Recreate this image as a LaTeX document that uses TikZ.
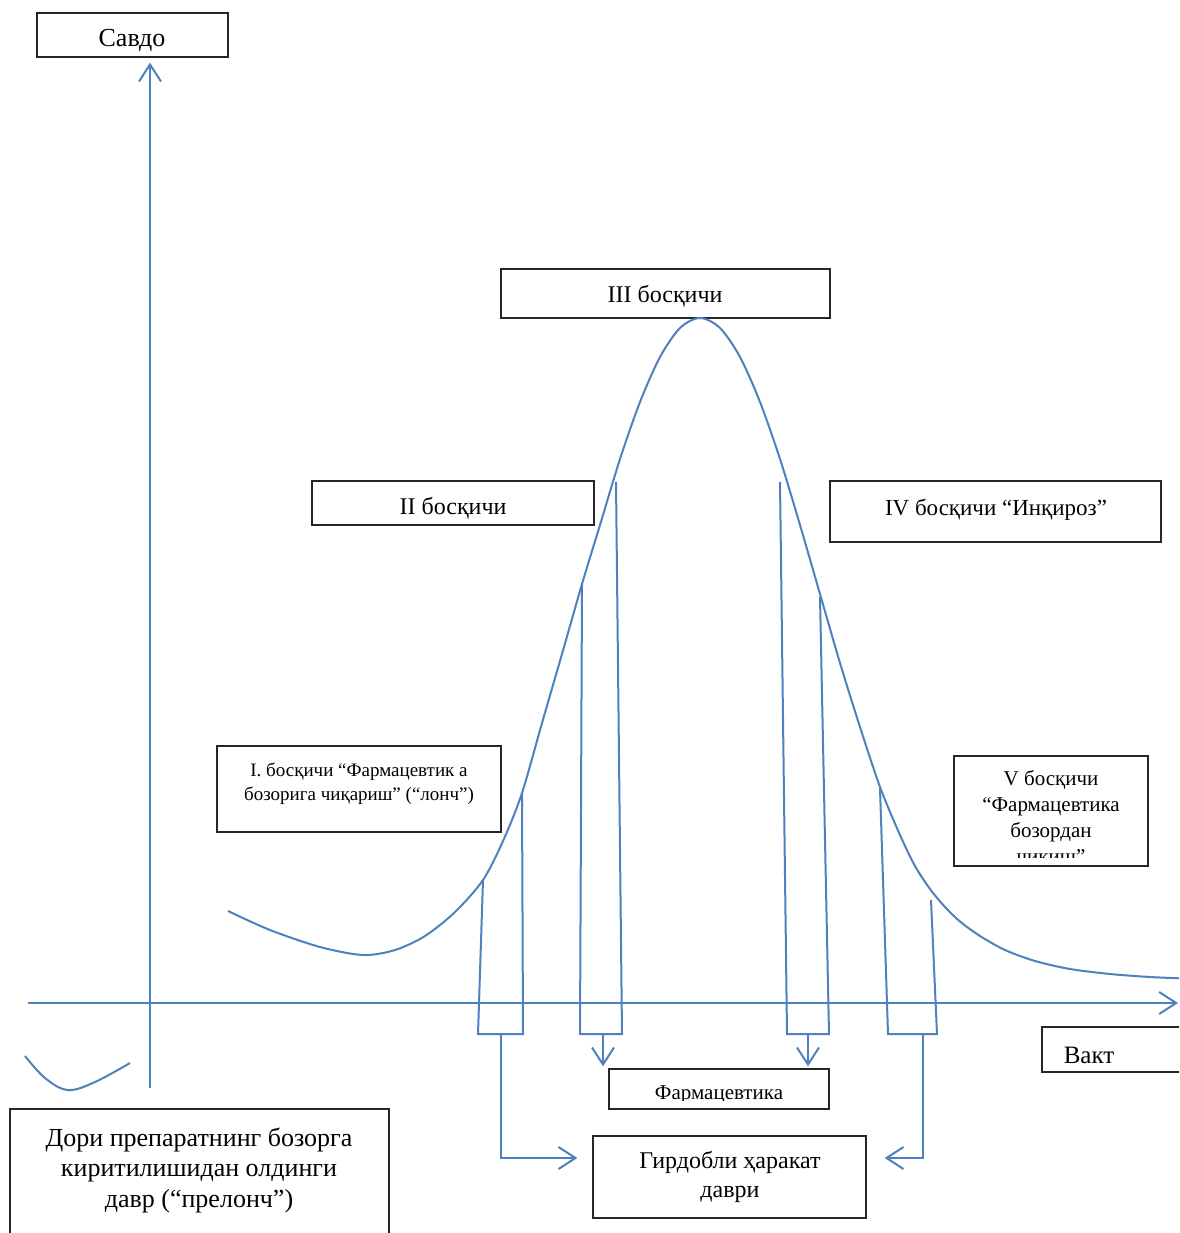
\documentclass[tikz,border=0pt]{standalone}
\usepackage{fontspec}
\setmainfont{Liberation Serif}
\usetikzlibrary{arrows.meta}
\definecolor{lblue}{HTML}{4F81BD}
\newcommand\fsz[2]{\fontsize{#1}{#2}\selectfont}
\begin{document}
\begin{tikzpicture}[x=1pt,y=-1pt,
  box/.style={draw=black!85,line width=1.3pt,inner sep=0pt,rectangle},
  bl/.style={draw=lblue,line width=2pt},
  arr/.style={bl,-{Straight Barb[length=17pt,width=22pt]}},
  txt/.style={inner sep=0pt,anchor=base}]
\clip (0,0) rectangle (1179,1233);
\fill[white] (0,0) rectangle (1179,1233);

% boxes
\node[box,minimum width=191pt,minimum height=44pt] (savdo) at (132.5,35) {};
\node[box,minimum width=329pt,minimum height=49pt] (s3) at (665.5,293.5) {};
\node[box,minimum width=282pt,minimum height=44pt] (s2) at (453,503) {};
\node[box,minimum width=331pt,minimum height=61pt] (s4) at (995.5,511.5) {};
\node[box,minimum width=284pt,minimum height=86pt] (s1) at (359,789) {};
\node[box,minimum width=194pt,minimum height=110pt] (s5) at (1051,811) {};
\node[box,minimum width=158pt,minimum height=45pt] (vakt) at (1121,1049.5) {};
\node[box,minimum width=220pt,minimum height=40pt] (farm) at (719,1089) {};
\node[box,minimum width=273pt,minimum height=82pt] (gird) at (729.5,1177) {};
\node[box,minimum width=379pt,minimum height=151pt] (dori) at (199.5,1184.5) {};

% texts
\node[txt,font=\fsz{26}{29}] (savdo-t) at (132,47) {Савдо};
\node[txt,font=\fsz{24}{28}] (s3-t) at (665,302) {III босқичи};
\node[txt,font=\fsz{24}{28}] (s2-t) at (453,514) {II босқичи};
\node[txt,font=\fsz{23}{28}] (s4-t) at (996,515) {IV босқичи “Инқироз”};
\node[txt,font=\fsz{19}{23}] (s1-t1) at (359,776) {I. босқичи “Фармацевтик а};
\node[txt,font=\fsz{19}{23}] (s1-t2) at (359,800) {бозорига чиқариш” (“лонч”)};
\node[txt,font=\fsz{21}{26}] (s5-t1) at (1051,785) {V босқичи};
\node[txt,font=\fsz{21}{26}] (s5-t2) at (1051,811) {“Фармацевтика};
\node[txt,font=\fsz{21}{26}] (s5-t3) at (1051,837) {бозордан};
\begin{scope}
  \clip (954,756) rectangle (1148,857);
  \node[txt,font=\fsz{21}{26}] (s5-t4) at (1051,863) {чиқиш”};
\end{scope}
\node[txt,font=\fsz{25}{29}] (vakt-t) at (1089,1063) {Вакт};
\begin{scope}
  \clip (609,1069) rectangle (829,1100);
  \node[txt,font=\fsz{21}{26}] (farm-t) at (719,1099) {Фармацевтика};
\end{scope}
\node[txt,font=\fsz{24}{29}] (gird-t1) at (730,1168) {Гирдобли ҳаракат};
\node[txt,font=\fsz{24}{29}] (gird-t2) at (730,1197) {даври};
\node[txt,font=\fsz{26}{30}] (dori-t1) at (199,1146) {Дори препаратнинг бозорга};
\node[txt,font=\fsz{26}{30}] (dori-t2) at (199,1176) {киритилишидан олдинги};
\node[txt,font=\fsz{26}{30}] (dori-t3) at (199,1207) {давр (“прелонч”)};

% axes
\coordinate (o) at (150,1088);
\coordinate (xs) at (28,1003);
\coordinate (xe) at (1178,1003);
\draw[arr,shorten >=5pt] (o) -- (o |- savdo.south);
\draw[arr] (xs) -- (xe);

% small curve at left
\draw[bl] plot[smooth,tension=0.6] coordinates {(25,1056) (45,1078) (68,1090) (95,1082) (130,1063)};

% main curve
\draw[bl] plot[smooth,tension=0.5] coordinates {(228,911) (270,930) (320,947) (363,955) (395,950) (425,936) (455,912) (483,880) (503,841) (522,793) (542,723) (562,654) (582,584) (600,525) (620,459) (640,402) (660,357) (680,328) (700,318) (720,328) (740,357) (760,402) (780,459) (800,525) (820,594) (840,663) (860,727) (880,787) (900,835) (915,866) (930,889) (945,907) (960,921.5) (980,936) (1005,950) (1035,961) (1070,969) (1110,974) (1150,977) (1185,978.5)};

% bracket coordinates
\coordinate (p1lt) at (483,880); \coordinate (p1lb) at (478,1034);
\coordinate (p1rt) at (522,793); \coordinate (p1rb) at (523,1034);
\coordinate (p2lt) at (582,584); \coordinate (p2lb) at (580,1034);
\coordinate (p2rt) at (616,482); \coordinate (p2rb) at (622,1034);
\coordinate (p3lt) at (780,482); \coordinate (p3lb) at (787,1034);
\coordinate (p3rt) at (820,597); \coordinate (p3rb) at (829,1034);
\coordinate (p4lt) at (880,788); \coordinate (p4lb) at (888,1034);
\coordinate (p4rt) at (931,900); \coordinate (p4rb) at (937,1034);
\draw[bl] (p1lt) -- (p1lb) -- (p1rb) -- (p1rt);
\draw[bl] (p2lt) -- (p2lb) -- (p2rb) -- (p2rt);
\draw[bl] (p3lt) -- (p3lb) -- (p3rb) -- (p3rt);
\draw[bl] (p4lt) -- (p4lb) -- (p4rb) -- (p4rt);

% connectors
\coordinate (c1) at (501,1034);
\coordinate (c2) at (603,1034);
\coordinate (c3) at (808,1034);
\coordinate (c4) at (923,1034);
\draw[arr,shorten >=15pt] (c1) |- ([yshift=19pt]gird.west);
\draw[arr,shorten >=2pt] (c2) -- (c2 |- farm.north);
\draw[arr,shorten >=2pt] (c3) -- (c3 |- farm.north);
\draw[arr,shorten >=18pt] (c4) |- ([yshift=19pt]gird.east);
\end{tikzpicture}
\end{document}
